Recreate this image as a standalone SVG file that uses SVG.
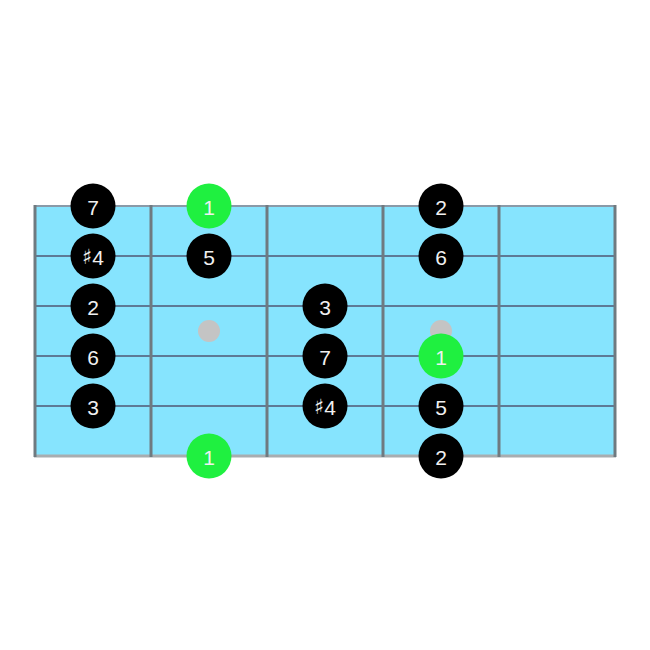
<svg xmlns="http://www.w3.org/2000/svg" width="650" height="650" viewBox="0 0 650 650">
<style>
.n circle{fill:#000}
.r circle{fill:#1ff040}
text{font-family:"Liberation Sans",Arial,sans-serif;font-size:21px;fill:#f0f0f0;text-anchor:middle;dominant-baseline:central}
.sh{font-family:"DejaVu Sans",sans-serif;fill:#f0f0f0}
.s{stroke:#5d7a96;stroke-width:2}
.f{stroke:#6f7a80;stroke-width:3}
.m{fill:#c4c4c4}
</style>
<rect width="650" height="650" fill="#fff"/>
<g id="board">
<rect x="35" y="206" width="580" height="250" fill="#86e4fe"/>
<g id="strings">
<line class="s" x1="35" y1="256" x2="615" y2="256"/>
<line class="s" x1="35" y1="306" x2="615" y2="306"/>
<line class="s" x1="35" y1="356" x2="615" y2="356"/>
<line class="s" x1="35" y1="406" x2="615" y2="406"/>
<line x1="35" y1="206" x2="615" y2="206" stroke="#8a9aa8" stroke-width="2"/>
<line x1="34" y1="456" x2="616" y2="456" stroke="#a8adb0" stroke-width="3"/>
</g>
<g id="frets">
<line class="f" x1="35" y1="205" x2="35" y2="457" stroke="#8c9397"/>
<line class="f" x1="151" y1="205" x2="151" y2="457"/>
<line class="f" x1="267" y1="205" x2="267" y2="457"/>
<line class="f" x1="383" y1="205" x2="383" y2="457"/>
<line class="f" x1="499" y1="205" x2="499" y2="457"/>
<line class="f" x1="615" y1="205" x2="615" y2="457" stroke="#8c9397"/>
</g>
<circle class="m" cx="209" cy="331" r="11"/>
<circle class="m" cx="441" cy="331" r="11"/>
</g>
<g id="notes">
<g id="n1" class="n"><circle cx="93" cy="206" r="22.5"/><text x="93" y="207">7</text></g>
<g id="n2" class="r"><circle cx="209" cy="206" r="22.5"/><text x="209" y="207">1</text></g>
<g id="n3" class="n"><circle cx="441" cy="206" r="22.5"/><text x="441" y="207">2</text></g>
<g id="n4" class="n"><circle cx="93" cy="256" r="22.5"/><text x="93" y="257"><tspan class="sh">♯</tspan>4</text></g>
<g id="n5" class="n"><circle cx="209" cy="256" r="22.5"/><text x="209" y="257">5</text></g>
<g id="n6" class="n"><circle cx="441" cy="256" r="22.5"/><text x="441" y="257">6</text></g>
<g id="n7" class="n"><circle cx="93" cy="306" r="22.5"/><text x="93" y="307">2</text></g>
<g id="n8" class="n"><circle cx="325" cy="306" r="22.5"/><text x="325" y="307">3</text></g>
<g id="n9" class="n"><circle cx="93" cy="356" r="22.5"/><text x="93" y="357">6</text></g>
<g id="n10" class="n"><circle cx="325" cy="356" r="22.5"/><text x="325" y="357">7</text></g>
<g id="n11" class="r"><circle cx="441" cy="356" r="22.5"/><text x="441" y="357">1</text></g>
<g id="n12" class="n"><circle cx="93" cy="406" r="22.5"/><text x="93" y="407">3</text></g>
<g id="n13" class="n"><circle cx="325" cy="406" r="22.5"/><text x="325" y="407"><tspan class="sh">♯</tspan>4</text></g>
<g id="n14" class="n"><circle cx="441" cy="406" r="22.5"/><text x="441" y="407">5</text></g>
<g id="n15" class="r"><circle cx="209" cy="456" r="22.5"/><text x="209" y="457">1</text></g>
<g id="n16" class="n"><circle cx="441" cy="456" r="22.5"/><text x="441" y="457">2</text></g>
</g>
<g id="connectors"/>
</svg>
